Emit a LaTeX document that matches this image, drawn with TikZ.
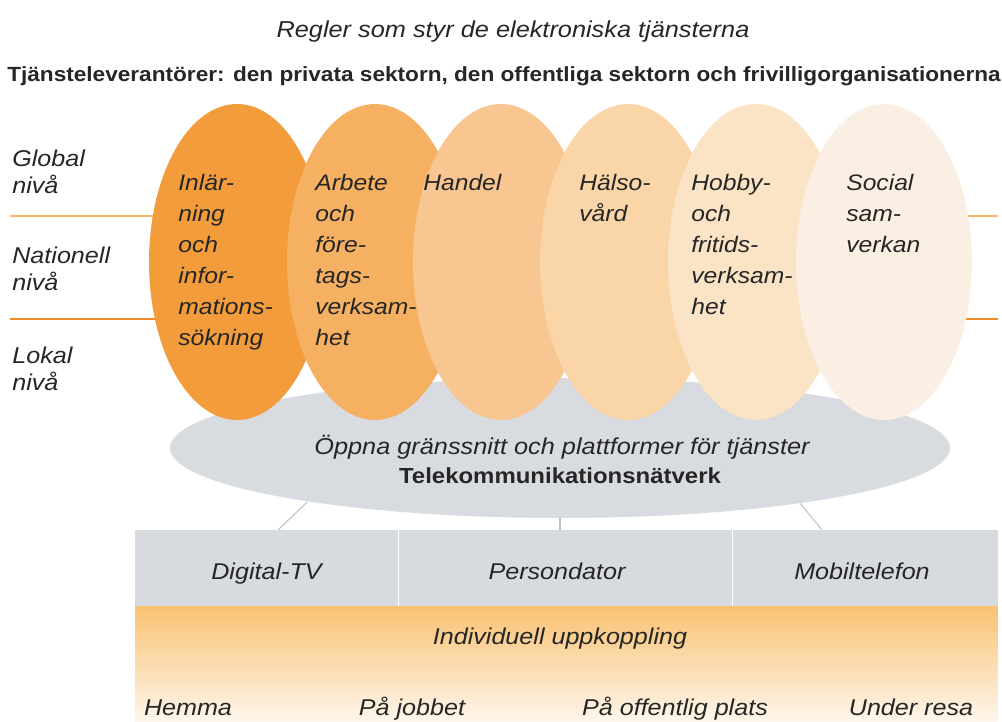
\documentclass[tikz,border=0pt]{standalone}
\usepackage{fontspec}
\setmainfont{Liberation Sans}[FakeStretch=1.1]
\usetikzlibrary{shapes.geometric}

\definecolor{ovalA}{HTML}{F39C3C}
\definecolor{ovalB}{HTML}{F6B061}
\definecolor{ovalC}{HTML}{F8C690}
\definecolor{ovalD}{HTML}{FAD5A8}
\definecolor{ovalE}{HTML}{FBE3C5}
\definecolor{ovalF}{HTML}{FAEFE2}
\definecolor{netgray}{HTML}{D8DBDF}
\definecolor{boxgray}{HTML}{D7DADE}
\definecolor{linegray}{HTML}{BFC2C6}
\definecolor{lvlA}{HTML}{F7B566}
\definecolor{lvlB}{HTML}{EE8A2C}
\definecolor{bandtop}{HTML}{F9C272}
\definecolor{bandbot}{HTML}{FEF6EC}
\definecolor{ink}{HTML}{262626}

\tikzset{
  oval/.style={ellipse, minimum width=3.52cm, minimum height=6.32cm, inner sep=0},
  ovaltext/.style={anchor=north west, align=left, inner sep=0, text=ink,
    font=\itshape\fontsize{12.75}{17.6}\selectfont},
  level/.style={anchor=north west, align=left, inner sep=0, text=ink,
    font=\itshape\fontsize{13}{15.4}\selectfont},
  cell/.style={rectangle, fill=boxgray, minimum height=1.52cm, inner sep=0},
  conn/.style={draw=linegray, line width=0.6pt},
  plain/.style={inner sep=0, text=ink, text height=9.3pt, text depth=2.7pt,
    font=\itshape\fontsize{13}{15}\selectfont},
}

\begin{document}
\begin{tikzpicture}[x=0.02cm, y=-0.02cm]
  \useasboundingbox (0,0) rectangle (1002,722);

  % headings
  \node[plain, font=\itshape\fontsize{13.1}{15}\selectfont] (regler) at (513,32) {Regler som styr de elektroniska tjänsterna};
  \node[plain, font=\bfseries\fontsize{11.7}{14}\selectfont] (leverantor) at (504,76)
    {Tjänsteleverantörer: den privata sektorn, den offentliga sektorn och frivilligorganisationerna};

  % levels
  \draw[lvlA, line width=1.6pt] (10,216) -- (998,216);
  \draw[lvlB, line width=1.2pt] (10,319) -- (998,319);
  \node[level] (global) at (12,150) {Global\\nivå};
  \node[level] (nationell) at (12,247) {Nationell\\nivå};
  \node[level] (lokal) at (12,347) {Lokal\\nivå};

  % network and service areas
  \node[ellipse, fill=netgray, minimum width=15.6cm, minimum height=2.8cm] (natverk) at (560,448) {};
  \node[oval, fill=ovalA] (larande) at (237,262) {};
  \node[oval, fill=ovalB] (arbete) at (375,262) {};
  \node[oval, fill=ovalC] (handel) at (501,262) {};
  \node[oval, fill=ovalD] (halsa) at (628,262) {};
  \node[oval, fill=ovalE] (hobby) at (756,262) {};
  \node[oval, fill=ovalF] (social) at (884,262) {};

  \node[ovaltext] at (178,174) {Inlär-\\ning\\och\\infor-\\mations-\\sökning};
  \node[ovaltext] at (315,174) {Arbete\\och\\före-\\tags-\\verksam-\\het};
  \node[ovaltext] at (423,174) {Handel};
  \node[ovaltext] at (579,174) {Hälso-\\vård};
  \node[ovaltext] at (691,174) {Hobby-\\och\\fritids-\\verksam-\\het};
  \node[ovaltext] at (846,174) {Social\\sam-\\verkan};

  \node[plain, font=\itshape\fontsize{13.1}{15}\selectfont] (oppna) at (562,449) {Öppna gränssnitt och plattformer för tjänster};
  \node[plain, font=\bfseries\fontsize{12.4}{14}\selectfont] (telekom) at (560,478) {Telekommunikationsnätverk};

  % terminals
  \node[cell, minimum width=5.26cm] (tv) at (266.5,568) {};
  \node[cell, minimum width=6.68cm] (pc) at (565,568) {};
  \node[cell, minimum width=5.32cm] (mobil) at (865,568) {};
  \draw[white, line width=0.8pt] (tv.north east) -- (tv.south east);
  \draw[white, line width=0.8pt] (pc.north east) -- (pc.south east);
  \node[plain] (tvtext) at (266.5,574) {Digital-TV};
  \node[plain] (pctext) at (557,574) {Persondator};
  \node[plain] (mobiltext) at (862,574) {Mobiltelefon};

  \coordinate (tvtop) at (278,530);
  \coordinate (mobiltop) at (822,530);
  \draw[conn] (natverk.192) -- (tvtop);
  \draw[conn] (natverk.south) -- (natverk.south |- pc.north);
  \draw[conn] (natverk.347) -- (mobiltop);

  % individual connection
  \node[rectangle, top color=bandtop, bottom color=bandbot, minimum width=17.26cm,
    minimum height=2.32cm, inner sep=0] (band) at (566.5,664) {};
  \node[plain] (individuell) at (560,639) {Individuell uppkoppling};
  \node[plain] (hemma) at (188,710) {Hemma};
  \node[plain] (jobbet) at (412,710) {På jobbet};
  \node[plain] (offentlig) at (675,710) {På offentlig plats};
  \node[plain] (resa) at (911,710) {Under resa};
\end{tikzpicture}
\end{document}
